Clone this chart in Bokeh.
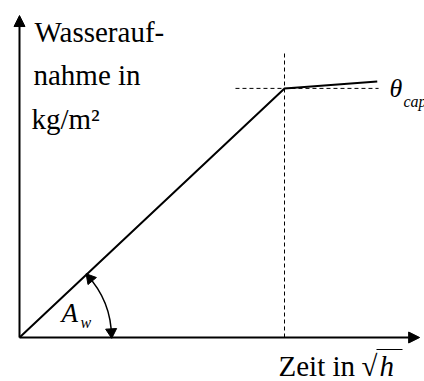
import math
from bokeh.plotting import figure
from bokeh.models import Range1d, Arrow, NormalHead
from bokeh.core.properties import value
from bokeh.embed import file_html
from bokeh.resources import INLINE

# schematic data: time in sqrt(h), water uptake in kg/m2
time_sqrt_h = [0.0, 10.0, 13.5]
uptake = [0.0, 9.4, 9.66]
axis_x_max = 15.1
axis_y_max = 12.15
vline_top = 10.72
hline_span = [8.15, 13.55]

PX = 26.5  # pixels per data unit (equal on both axes)
OX, OY = 19, 337  # origin position on the canvas
FONT = "Times New Roman"

p = figure(width=424, height=381,
           x_range=Range1d(-OX / PX, (424 - OX) / PX),
           y_range=Range1d((OY - 381) / PX, OY / PX),
           x_axis_location=None, y_axis_location=None,
           output_backend="svg", toolbar_location=None,
           min_border=0, outline_line_color=None)
p.grid.visible = False
p.background_fill_color = "white"

for xe, ye in [(0, axis_y_max), (axis_x_max, 0)]:
    p.add_layout(Arrow(x_start=0, y_start=0, x_end=xe, y_end=ye, line_width=2,
                       line_color="black",
                       end=NormalHead(size=11, fill_color="black", line_color="black")))

p.line(time_sqrt_h, uptake, line_width=2, line_color="black")

t_knee, w_knee = time_sqrt_h[1], uptake[1]
p.line([t_knee, t_knee], [0, vline_top], line_dash="4 3", line_width=1, line_color="black")
p.line(hline_span, [w_knee, w_knee], line_dash="4 3", line_width=1, line_color="black")

ang = math.atan2(w_knee, t_knee)
r = 92 / PX
p.arc(x=[0], y=[0], radius=r, start_angle=0.0, end_angle=ang, line_width=1.5, line_color="black")
back = 5.5 / 92
a_top = ang - back
a_bot = back
p.scatter(x=[r * math.cos(a_top), r * math.cos(a_bot)],
          y=[r * math.sin(a_top), r * math.sin(a_bot)],
          angle=[a_top, a_bot + math.pi], marker="triangle", size=11,
          fill_color="black", line_color="black")

def lab(x_px, baseline_px, text, size, style="normal"):
    mid = baseline_px - 0.34 * size
    p.text(x=[(x_px - OX) / PX], y=[(OY - mid) / PX], text=[text],
           text_font=value(FONT), text_font_size=f"{size}px", text_font_style=style,
           text_baseline="middle", text_align="left", text_color="black")

lab(34, 41, "Wasserauf-", 29)
lab(33, 84, "nahme in", 29)
lab(31, 128, "kg/m²", 29)

lab(61, 322, "A", 27, "italic")
lab(80, 327, "w", 16, "italic")

lab(389, 97, "θ", 26, "italic")
lab(403, 106, "cap", 16, "italic")

lab(278, 375, "Zeit in", 29)
lab(361, 375, "√", 29)
lab(379, 375, "h", 29, "italic")
p.line([(376 - OX) / PX, (402 - OX) / PX], [(OY - 349) / PX] * 2, line_width=1.2, line_color="black")

open("out.html", "w").write(file_html(p, INLINE))
